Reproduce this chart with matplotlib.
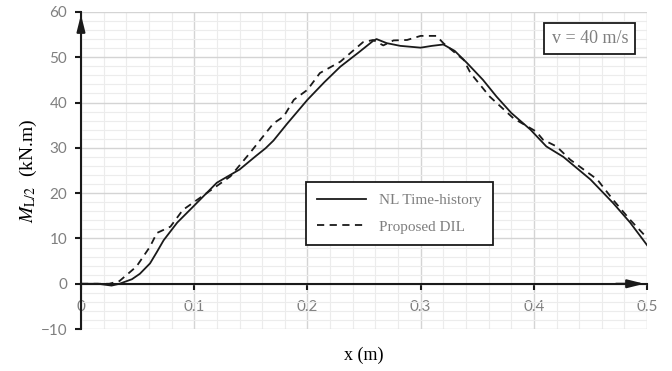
import matplotlib
matplotlib.use("Agg")
import matplotlib.pyplot as plt
from matplotlib.ticker import MultipleLocator

# NL time-history (solid)
x_nl = [0, 0.015, 0.027, 0.034, 0.045, 0.052, 0.061, 0.067, 0.073, 0.085, 0.099,
        0.12, 0.14, 0.155, 0.163, 0.17, 0.182, 0.2, 0.215, 0.229, 0.245, 0.258, 0.261,
        0.27, 0.282, 0.30, 0.31, 0.32, 0.33, 0.341, 0.355, 0.367, 0.38, 0.397,
        0.411, 0.426, 0.45, 0.47, 0.485, 0.5]
m_nl = [0, 0, -0.4, 0, 1.0, 2.2, 4.5, 7.0, 9.6, 13.5, 17,
        22.3, 25.2, 28.3, 29.9, 31.6, 35.3, 40.6, 44.5, 47.9, 51, 53.6, 54.0,
        53.1, 52.5, 52.1, 52.5, 52.8, 51.4, 48.7, 45, 41.3, 37.7, 34,
        30.3, 28, 23, 17.8, 13.5, 8.5]

# Proposed DIL (dashed)
x_dil = [0, 0.025, 0.034, 0.049, 0.061, 0.067, 0.079, 0.09, 0.111, 0.132, 0.149,
         0.17, 0.179, 0.188, 0.2, 0.211, 0.229, 0.249, 0.258, 0.267, 0.276, 0.288,
         0.30, 0.314, 0.32, 0.338, 0.344, 0.361, 0.382, 0.402, 0.408, 0.42,
         0.432, 0.444, 0.456, 0.47, 0.485, 0.5]
m_dil = [0, 0, 0.6, 3.8, 8.2, 11.2, 12.6, 16.3, 20, 23.7, 28.8,
         35.4, 36.9, 40.6, 42.8, 46.5, 49, 53.3, 53.8, 52.6, 53.7, 53.8,
         54.7, 54.7, 53.1, 49.4, 46.5, 41.3, 36.5, 33.6, 31.8, 30.3,
         27.4, 25.2, 23, 18.5, 14.1, 10.1]

x_ticks = [0, 0.1, 0.2, 0.3, 0.4, 0.5]
x_tick_labels = ['0', '0.1', '0.2', '0.3', '0.4', '0.5']
y_ticks = [-10, 0, 10, 20, 30, 40, 50, 60]

plt.rcParams['mathtext.fontset'] = 'stix'
serif = 'Liberation Serif'
gray = '#7f7f7f'

fig = plt.figure(figsize=(6.72, 3.71), dpi=100)
ax = fig.add_axes([0.1205, 0.113, 0.8425, 0.855])

ax.set_xlim(0, 0.5)
ax.set_ylim(-10, 60)

ax.xaxis.set_major_locator(MultipleLocator(0.1))
ax.xaxis.set_minor_locator(MultipleLocator(0.02))
ax.yaxis.set_major_locator(MultipleLocator(10))
ax.yaxis.set_minor_locator(MultipleLocator(2))
ax.grid(which='major', color='#d4d4d4', lw=1.0)
ax.grid(which='minor', color='#ececec', lw=0.8)
ax.set_axisbelow(True)

ax.plot(x_nl, m_nl, color='#1a1a1a', lw=1.3, label='NL Time-history', zorder=3)
ax.plot(x_dil, m_dil, color='#1a1a1a', lw=1.3, ls=(0, (4, 3)), label='Proposed DIL', zorder=3)

for s in ['top', 'right']:
    ax.spines[s].set_visible(False)
ax.spines['bottom'].set_position(('data', 0))
ax.spines['bottom'].set_color('#1a1a1a')
ax.spines['bottom'].set_linewidth(1.5)
ax.spines['left'].set_color('#1a1a1a')
ax.spines['left'].set_linewidth(1.5)

# arrow heads on axes
ax.annotate('', xy=(0.5, 0), xytext=(0.47, 0),
            arrowprops=dict(arrowstyle='-|>,head_length=1.0,head_width=0.25', color='#1a1a1a', lw=1.5),
            annotation_clip=False, zorder=4)
ax.annotate('', xy=(0, 60), xytext=(0, 55),
            arrowprops=dict(arrowstyle='-|>,head_length=1.0,head_width=0.25', color='#1a1a1a', lw=1.5),
            annotation_clip=False, zorder=4)

ax.set_xticks(x_ticks)
ax.set_xticklabels(x_tick_labels)
ax.set_yticks(y_ticks)
ax.tick_params(axis='x', which='major', direction='out', length=4, width=1.5,
               color='#1a1a1a', labelcolor=gray, labelsize=11, pad=8)
ax.tick_params(axis='y', which='major', direction='out', length=4, width=1.5,
               color='#1a1a1a', labelcolor=gray, labelsize=11, pad=6)
ax.tick_params(which='minor', length=0)
for lab in ax.get_xticklabels() + ax.get_yticklabels():
    lab.set_fontfamily('Lato')

ax.set_ylabel(r'$M_{\mathrm{L/2}}$  (kN.m)', fontsize=14, fontfamily=serif, labelpad=1)
fig.text(0.542, 0.042, 'x (m)', fontsize=13, fontfamily=serif, ha='center', va='center')

leg = ax.legend(loc='upper left', bbox_to_anchor=(0.3975, 0.4637), fancybox=False,
                edgecolor='#1a1a1a', framealpha=1, handlelength=3.2, borderaxespad=0,
                prop={'family': serif, 'size': 11}, borderpad=0.75, labelspacing=0.85)
leg.get_frame().set_linewidth(1.3)
for t in leg.get_texts():
    t.set_color(gray)

ax.text(0.899, 0.916, 'v = 40 m/s', transform=ax.transAxes, ha='center', va='center',
        fontsize=13, fontfamily=serif, color=gray,
        bbox=dict(boxstyle='square,pad=0.4', fc='white', ec='#1a1a1a', lw=1.3))

fig.savefig('out.png', dpi=100)
